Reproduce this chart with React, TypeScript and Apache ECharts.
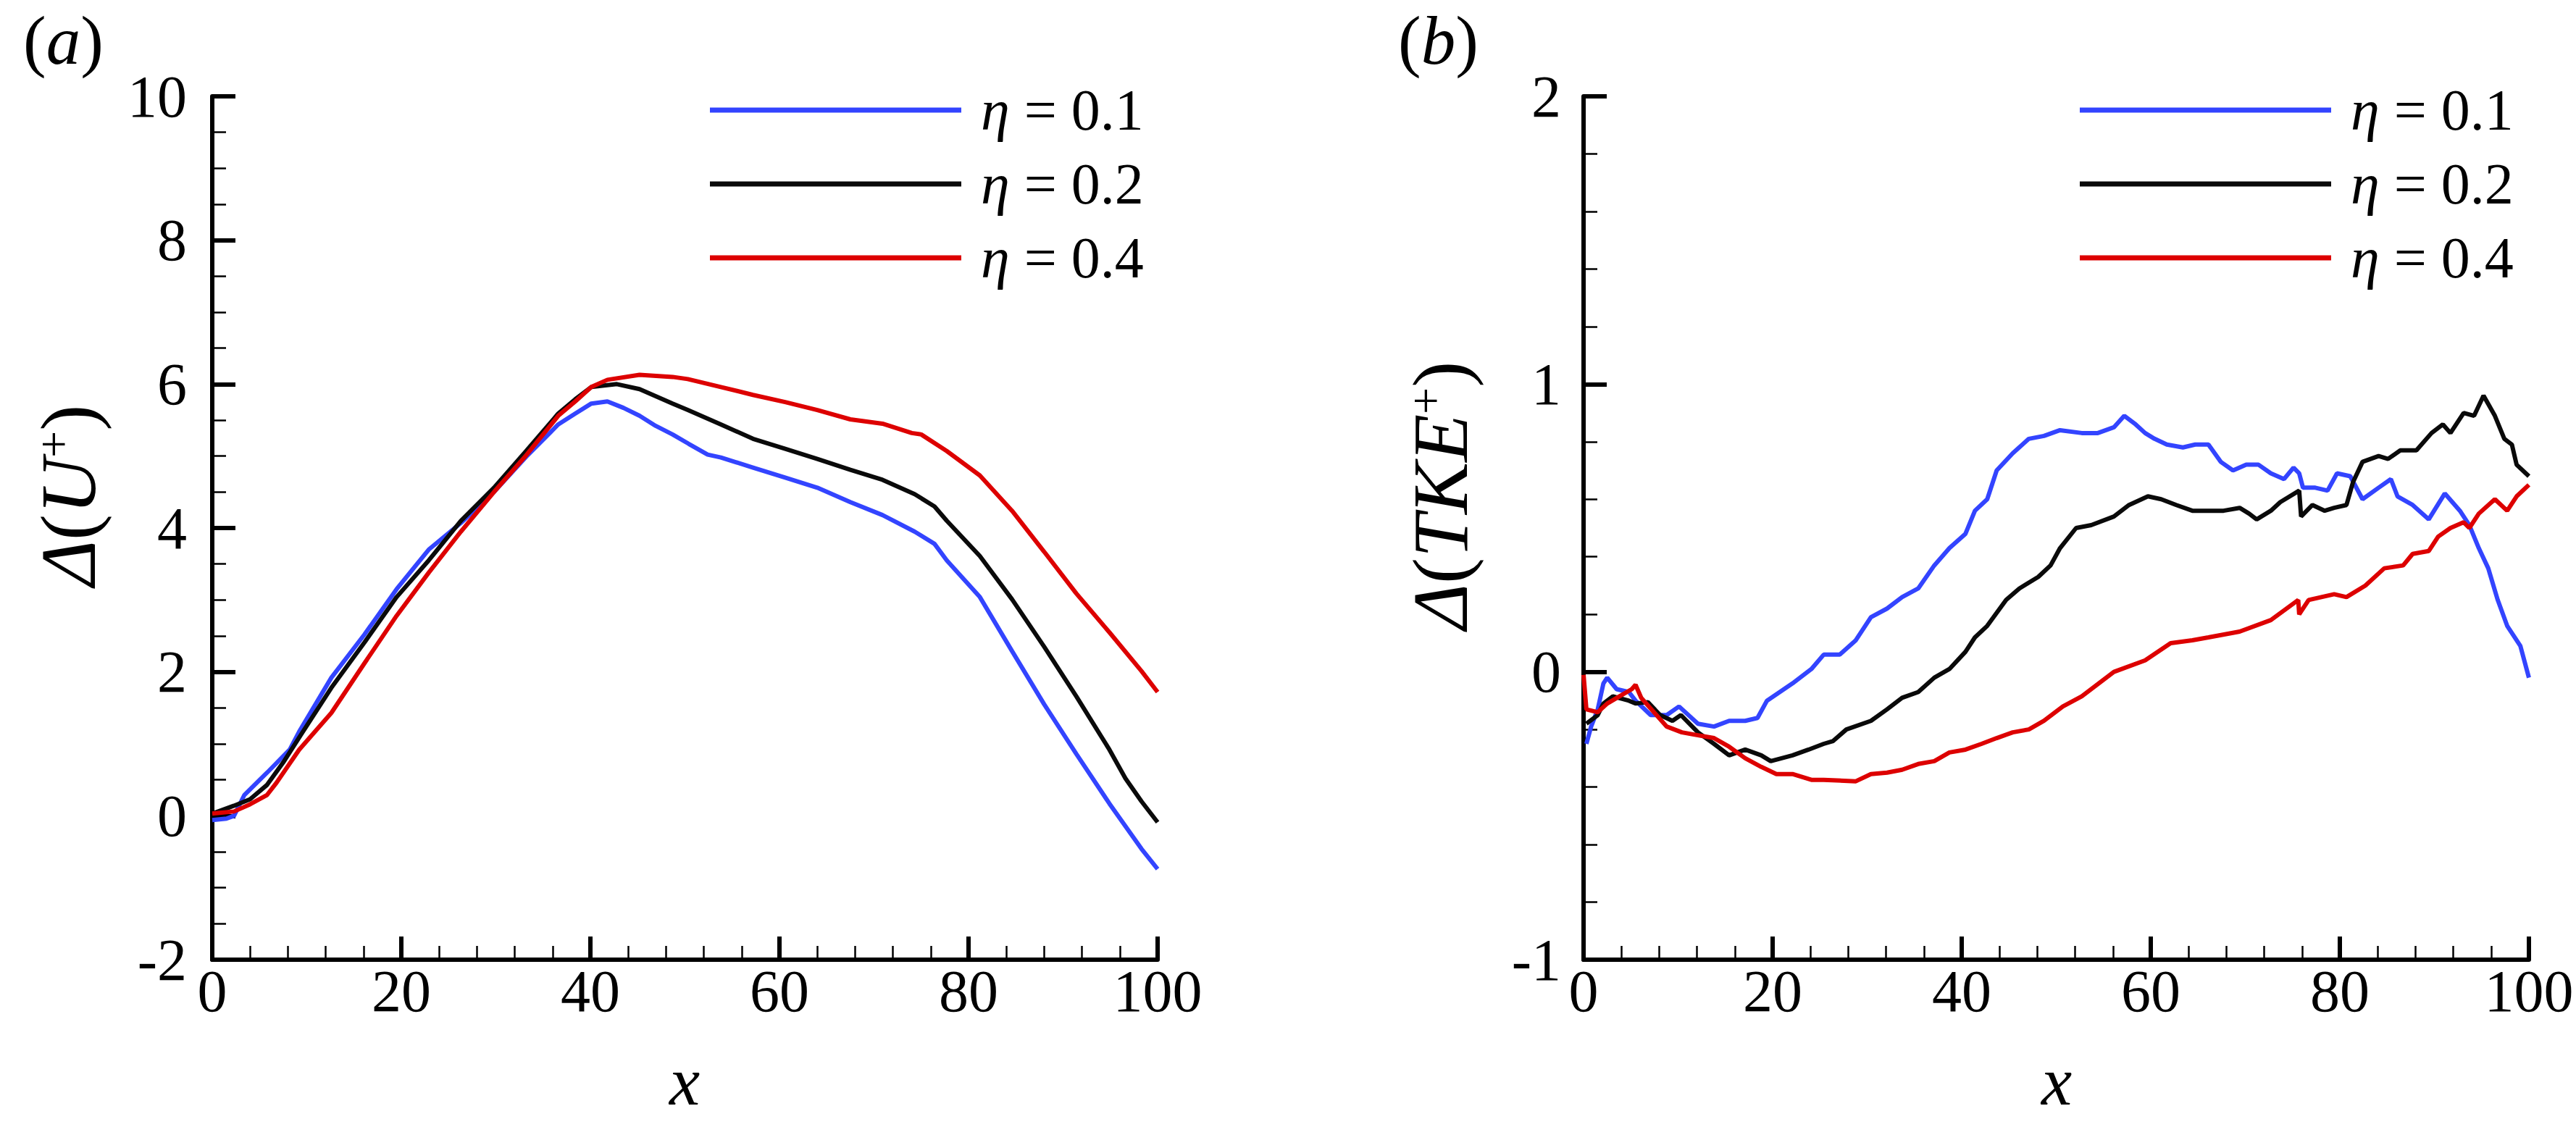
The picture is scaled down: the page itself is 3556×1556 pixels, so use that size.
import React, { useEffect, useRef } from "react";
import * as echarts from "echarts";

const FONT = "'Liberation Serif', 'Times New Roman', Times, serif";

const seriesNames = ["η = 0.1", "η = 0.2", "η = 0.4"];
const seriesColors = ["#3344ff", "#0a0a0a", "#dd0000"];

const xTicksMin = 0;
const xTicksMax = 100;
const xTickStep = 20;

// Panel (a): Δ(U+)
const aBlueX = [0, 1.5, 2.3, 3.4, 5.8, 8.2, 9.2, 12.6, 16.1, 19.5, 22.9, 26.3, 29.8, 33.2, 36.6, 38.4, 40.1, 41.8, 43.5, 45.2, 46.9, 48.7, 50.4, 52.4, 53.8, 57.2, 60.6, 64.0, 67.5, 70.9, 74.3, 76.4, 77.7, 81.2, 84.6, 88.0, 91.4, 94.9, 98.3, 100];
const aBlueY = [-0.06, -0.04, 0.0, 0.29, 0.6, 0.92, 1.17, 1.92, 2.52, 3.15, 3.70, 4.07, 4.5, 4.99, 5.44, 5.59, 5.73, 5.76, 5.67, 5.56, 5.42, 5.30, 5.17, 5.02, 4.98, 4.84, 4.70, 4.56, 4.36, 4.18, 3.95, 3.78, 3.55, 3.04, 2.29, 1.55, 0.86, 0.17, -0.46, -0.74];

const aBlackX = [0, 2.3, 4.0, 5.8, 7.5, 9.2, 12.6, 16.1, 19.5, 22.9, 26.3, 29.8, 33.2, 36.6, 38.4, 40.1, 42.8, 45.2, 48.7, 50.3, 52.4, 53.8, 57.2, 60.6, 64.0, 67.5, 70.9, 74.3, 76.4, 77.7, 81.2, 84.6, 88.0, 91.4, 94.9, 96.6, 98.3, 100];
const aBlackY = [0.03, 0.14, 0.23, 0.43, 0.74, 1.09, 1.78, 2.41, 3.04, 3.55, 4.10, 4.56, 5.07, 5.59, 5.79, 5.96, 6.0, 5.93, 5.73, 5.64, 5.52, 5.44, 5.24, 5.10, 4.96, 4.81, 4.67, 4.47, 4.30, 4.10, 3.61, 3.01, 2.35, 1.66, 0.92, 0.52, 0.20, -0.09];

const aRedX = [0, 2.3, 4.0, 5.8, 6.8, 9.2, 12.6, 16.1, 19.5, 22.9, 26.3, 29.8, 33.2, 36.6, 38.4, 40.1, 41.8, 45.2, 48.7, 50.3, 53.8, 57.2, 60.6, 64.0, 67.5, 70.9, 74.0, 75.0, 77.7, 81.2, 84.6, 88.0, 91.4, 94.9, 98.3, 100];
const aRedY = [0.03, 0.06, 0.16, 0.29, 0.46, 0.92, 1.43, 2.12, 2.78, 3.38, 3.95, 4.5, 5.01, 5.56, 5.76, 5.96, 6.06, 6.13, 6.10, 6.07, 5.96, 5.85, 5.75, 5.64, 5.51, 5.45, 5.32, 5.30, 5.07, 4.73, 4.24, 3.67, 3.09, 2.55, 2.01, 1.72];

// Panel (b): Δ(TKE+)
const bBlueX = [0.3, 0.8, 1.5, 2.1, 2.5, 3.5, 4.8, 5.5, 7.1, 8.8, 10.1, 12.1, 13.8, 15.4, 17.1, 18.4, 19.4, 22.1, 24.1, 25.4, 27.1, 28.8, 30.4, 32.1, 33.7, 35.4, 37.1, 38.7, 40.4, 41.4, 42.7, 43.7, 45.4, 47.1, 48.7, 50.4, 52.7, 54.4, 56.1, 57.2, 58.4, 59.4, 60.4, 61.7, 63.4, 64.7, 66.1, 67.4, 68.7, 70.1, 71.4, 72.7, 74.1, 75.1, 75.7, 76.1, 77.4, 78.7, 79.7, 81.1, 82.4, 84.1, 85.4, 86.1, 87.7, 89.4, 91.1, 92.7, 93.7, 94.7, 95.7, 96.7, 97.7, 99.1, 100];
const bBlueY = [-0.25, -0.19, -0.13, -0.04, -0.02, -0.06, -0.07, -0.10, -0.15, -0.15, -0.12, -0.18, -0.19, -0.17, -0.17, -0.16, -0.10, -0.04, 0.01, 0.06, 0.06, 0.11, 0.19, 0.22, 0.26, 0.29, 0.37, 0.43, 0.48, 0.56, 0.60, 0.70, 0.76, 0.81, 0.82, 0.84, 0.83, 0.83, 0.85, 0.89, 0.86, 0.83, 0.81, 0.79, 0.78, 0.79, 0.79, 0.73, 0.70, 0.72, 0.72, 0.69, 0.67, 0.71, 0.69, 0.64, 0.64, 0.63, 0.69, 0.68, 0.60, 0.64, 0.67, 0.61, 0.58, 0.53, 0.62, 0.56, 0.51, 0.43, 0.36, 0.25, 0.16, 0.09, -0.02];

const bBlackX = [0.3, 1.5, 2.1, 3.1, 4.8, 5.5, 6.8, 8.1, 9.4, 10.3, 12.1, 13.8, 15.4, 17.1, 18.8, 19.8, 22.1, 23.8, 25.4, 26.4, 27.8, 30.4, 32.1, 33.7, 35.4, 37.1, 38.7, 40.4, 41.4, 42.7, 44.7, 46.1, 48.1, 49.4, 50.4, 52.1, 53.7, 56.1, 57.7, 59.7, 61.1, 62.7, 64.4, 66.1, 67.7, 69.4, 70.4, 71.2, 72.7, 73.7, 75.7, 75.9, 77.1, 78.4, 79.4, 80.7, 81.4, 82.4, 84.1, 85.1, 86.4, 88.1, 89.7, 90.9, 91.7, 93.1, 94.2, 95.2, 96.4, 97.4, 98.2, 98.7, 100];
const bBlackY = [-0.18, -0.15, -0.11, -0.085, -0.10, -0.11, -0.105, -0.15, -0.17, -0.15, -0.21, -0.25, -0.29, -0.27, -0.29, -0.31, -0.29, -0.27, -0.25, -0.24, -0.20, -0.17, -0.13, -0.09, -0.07, -0.02, 0.01, 0.07, 0.12, 0.16, 0.25, 0.29, 0.33, 0.37, 0.43, 0.50, 0.51, 0.54, 0.58, 0.61, 0.60, 0.58, 0.56, 0.56, 0.56, 0.57, 0.55, 0.53, 0.56, 0.59, 0.63, 0.54, 0.58, 0.56, 0.57, 0.58, 0.66, 0.73, 0.75, 0.74, 0.77, 0.77, 0.83, 0.86, 0.83, 0.90, 0.89, 0.96, 0.89, 0.81, 0.79, 0.72, 0.68];

const bRedX = [0, 0.3, 1.5, 2.5, 3.8, 5.1, 5.5, 6.1, 8.8, 10.4, 12.1, 13.8, 15.4, 17.1, 18.8, 20.4, 22.1, 24.1, 25.4, 28.8, 30.4, 32.1, 33.7, 35.4, 37.1, 38.7, 40.4, 42.1, 43.7, 45.4, 47.1, 48.7, 50.7, 52.7, 56.1, 59.4, 62.1, 64.4, 66.1, 69.4, 72.7, 75.6, 75.7, 76.7, 79.4, 80.7, 82.7, 84.7, 86.7, 87.7, 89.4, 90.4, 91.7, 93.1, 93.7, 94.7, 96.4, 97.7, 98.7, 100];
const bRedY = [-0.01, -0.13, -0.14, -0.11, -0.085, -0.06, -0.045, -0.09, -0.19, -0.21, -0.22, -0.23, -0.26, -0.30, -0.33, -0.355, -0.355, -0.375, -0.375, -0.38, -0.355, -0.35, -0.34, -0.32, -0.31, -0.28, -0.27, -0.25, -0.23, -0.21, -0.20, -0.17, -0.12, -0.085, 0.0, 0.04, 0.10, 0.11, 0.12, 0.14, 0.18, 0.25, 0.20, 0.25, 0.27, 0.26, 0.30, 0.36, 0.37, 0.41, 0.42, 0.47, 0.50, 0.52, 0.50, 0.55, 0.60, 0.56, 0.61, 0.65];

const zip = (xs: number[], ys: number[]) => xs.map((x, i) => [x, ys[i]]);

const GRID_TOP = 133;
const GRID_H = 1192;
const GRID_W = 1305;
const A_LEFT = 293;
const B_LEFT = 2186;

function xAxis(gridIndex: number) {
  return {
    type: "value",
    gridIndex,
    min: xTicksMin,
    max: xTicksMax,
    interval: xTickStep,
    axisLine: { show: true, onZero: false, lineStyle: { color: "#000", width: 6 } },
    axisTick: { show: true, inside: true, length: 32, lineStyle: { color: "#000", width: 6 } },
    minorTick: { show: true, splitNumber: 5, length: 19, lineStyle: { color: "#000", width: 2.5 } },
    splitLine: { show: false },
    minorSplitLine: { show: false },
    axisLabel: { fontFamily: FONT, fontSize: 82, color: "#000", margin: 2, showMinLabel: true, showMaxLabel: true },
  };
}

function yAxis(gridIndex: number, min: number, max: number, interval: number, minorSplit: number, margin: number) {
  return {
    type: "value",
    gridIndex,
    min,
    max,
    interval,
    axisLine: { show: true, onZero: false, lineStyle: { color: "#000", width: 6 } },
    axisTick: { show: true, inside: true, length: 32, lineStyle: { color: "#000", width: 6 } },
    minorTick: { show: true, splitNumber: minorSplit, length: 19, lineStyle: { color: "#000", width: 2.5 } },
    splitLine: { show: false },
    minorSplitLine: { show: false },
    axisLabel: { fontFamily: FONT, fontSize: 82, color: "#000", margin, showMinLabel: true, showMaxLabel: true },
  };
}

function lineSeries(name: string, color: string, idx: number, data: number[][]) {
  return {
    type: "line",
    name,
    xAxisIndex: idx,
    yAxisIndex: idx,
    data,
    color,
    showSymbol: false,
    symbol: "none",
    lineStyle: { color, width: 6 },
    clip: false,
  };
}

function legend(left: number) {
  return {
    left,
    top: 112,
    orient: "vertical",
    icon: "rect",
    itemWidth: 347,
    itemHeight: 7,
    itemGap: 22,
    padding: 0,
    selectedMode: false,
    data: seriesNames,
    formatter: (n: string) => `{g|}{e|η}{t| = ${n.split("= ")[1]}}`,
    textStyle: {
      fontFamily: FONT,
      fontSize: 80,
      lineHeight: 80,
      color: "#000",
      rich: {
        g: { width: 22, lineHeight: 80 },
        e: { fontFamily: FONT, fontSize: 80, fontStyle: "italic", lineHeight: 80, color: "#000" },
        t: { fontFamily: FONT, fontSize: 80, lineHeight: 80, color: "#000" },
      },
    },
  };
}

const titleRich = {
  d: { fontFamily: FONT, fontSize: 108, fontStyle: "italic", lineHeight: 108, fill: "#000" },
  p: { fontFamily: FONT, fontSize: 108, lineHeight: 108, fill: "#000" },
  u: { fontFamily: FONT, fontSize: 108, fontStyle: "italic", lineHeight: 108, fill: "#000" },
  s: { fontFamily: FONT, fontSize: 66, lineHeight: 12, verticalAlign: "top", fill: "#000" },
};

const panelRich = {
  p: { fontFamily: FONT, fontSize: 95, lineHeight: 80, fill: "#000" },
  i: { fontFamily: FONT, fontSize: 95, lineHeight: 80, fontStyle: "italic", fill: "#000" },
};

const option = {
  animation: false,
  backgroundColor: "#fff",
  textStyle: { fontFamily: FONT },
  grid: [
    { left: A_LEFT, top: GRID_TOP, width: GRID_W, height: GRID_H, containLabel: false },
    { left: B_LEFT, top: GRID_TOP, width: GRID_W, height: GRID_H, containLabel: false },
  ],
  xAxis: [xAxis(0), xAxis(1)],
  yAxis: [yAxis(0, -2, 10, 2, 4, 35), yAxis(1, -1, 2, 1, 5, 31)],
  legend: [legend(980), legend(2871)],
  series: [
    lineSeries(seriesNames[0], seriesColors[0], 0, zip(aBlueX, aBlueY)),
    lineSeries(seriesNames[1], seriesColors[1], 0, zip(aBlackX, aBlackY)),
    lineSeries(seriesNames[2], seriesColors[2], 0, zip(aRedX, aRedY)),
    lineSeries(seriesNames[0], seriesColors[0], 1, zip(bBlueX, bBlueY)),
    lineSeries(seriesNames[1], seriesColors[1], 1, zip(bBlackX, bBlackY)),
    lineSeries(seriesNames[2], seriesColors[2], 1, zip(bRedX, bRedY)),
  ],
  graphic: [
    {
      type: "text", silent: true, x: 32, y: 56,
      style: { text: "{p|(}{i|a}{p|)}", rich: panelRich, fill: "#000", align: "left", verticalAlign: "middle" },
    },
    {
      type: "text", silent: true, x: 1930, y: 56,
      style: { text: "{p|(}{i|b}{p|)}", rich: panelRich, fill: "#000", align: "left", verticalAlign: "middle" },
    },
    {
      type: "text", silent: true, x: 94, y: 684, rotation: Math.PI / 2,
      style: { text: "{d|Δ}{p|(}{u|U}{s|+}{p|)}", rich: titleRich, fill: "#000", align: "center", verticalAlign: "middle" },
    },
    {
      type: "text", silent: true, x: 1988, y: 684, rotation: Math.PI / 2,
      style: { text: "{d|Δ}{p|(}{u|TKE}{s|+}{p|)}", rich: titleRich, fill: "#000", align: "center", verticalAlign: "middle" },
    },
    {
      type: "text", silent: true, x: 945, y: 1493,
      style: { text: "x", fontFamily: FONT, fontSize: 95, fontStyle: "italic", fill: "#000", align: "center", verticalAlign: "middle" },
    },
    {
      type: "text", silent: true, x: 2839, y: 1493,
      style: { text: "x", fontFamily: FONT, fontSize: 95, fontStyle: "italic", fill: "#000", align: "center", verticalAlign: "middle" },
    },
  ],
};

export default function App() {
  const ref = useRef<HTMLDivElement>(null);
  useEffect(() => {
    if (!ref.current) return;
    const chart = echarts.init(ref.current, null, { renderer: "svg" });
    chart.setOption(option as any);
    return () => chart.dispose();
  }, []);
  return (
    <div
      ref={ref}
      style={{ position: "absolute", left: 0, top: 0, width: 3556, height: 1556 }}
    />
  );
}
